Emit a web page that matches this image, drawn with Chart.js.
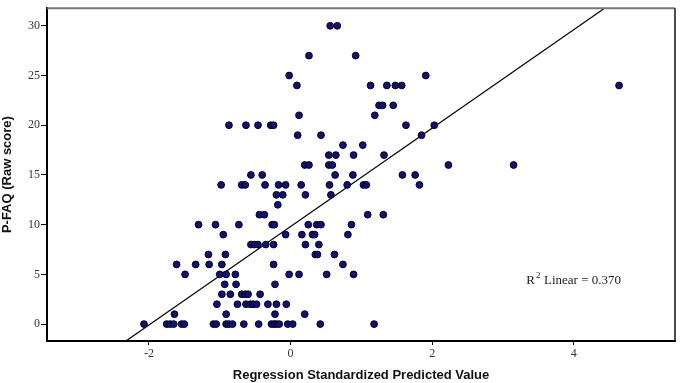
<!DOCTYPE html>
<html>
<head>
<meta charset="utf-8">
<script src="https://cdn.jsdelivr.net/npm/chart.js@4"></script>
<style>
  html, body { margin: 0; padding: 0; background: #fff; }
  #wrap { width: 680px; height: 383px; position: relative; }
</style>
</head>
<body>
<div id="wrap"><canvas id="myChart"></canvas></div>
<script>
const ctx = document.getElementById("myChart");

// y values (P-FAQ raw score) per row, x = standardized predicted value
const rowY = [30, 27, 25, 24, 22, 21, 20, 19, 18, 17, 16, 15, 14, 13, 12, 11, 10, 9, 8, 7, 6, 5, 4, 3, 2, 1, 0];
const rowX = [
  [0.56, 0.66],
  [0.26, 0.92],
  [-0.02, 1.91],
  [0.09, 1.13, 1.36, 1.48, 1.57, 4.64],
  [1.25, 1.3, 1.45],
  [0.12, 1.19],
  [-0.87, -0.63, -0.46, -0.28, -0.24, 1.63, 2.03],
  [0.1, 0.43, 1.85],
  [0.74, 1.02],
  [0.54, 0.64, 0.89, 1.32],
  [0.2, 0.26, 0.54, 0.59, 2.23, 3.15],
  [-0.56, -0.4, 0.63, 0.88, 1.58, 1.76],
  [-0.98, -0.69, -0.64, -0.36, -0.17, -0.07, 0.15, 0.55, 0.8, 1.03, 1.07, 1.82],
  [-0.2, -0.11, 0.21, 0.57],
  [-0.18],
  [-0.44, -0.37, 1.09, 1.31],
  [-1.3, -1.06, -0.73, -0.26, -0.23, 0.25, 0.37, 0.43, 0.86],
  [-0.95, -0.07, 0.16, 0.31, 0.34, 0.81],
  [-0.56, -0.51, -0.46, -0.35, -0.24, 0.21, 0.4],
  [-1.16, -0.92, 0.35, 0.38, 0.62],
  [-1.61, -1.34, -1.15, -0.97, -0.24, 0.74],
  [-1.49, -1.0, -0.91, -0.78, -0.02, 0.12, 0.51, 0.89],
  [-0.93, -0.77, -0.22],
  [-0.97, -0.85, -0.69, -0.64, -0.6, -0.43],
  [-1.04, -0.75, -0.63, -0.57, -0.53, -0.48, -0.32, -0.2, -0.06],
  [-1.64, -0.91, -0.22, 0.2],
  [-2.07, -1.75, -1.7, -1.65, -1.54, -1.5, -1.09, -1.05, -0.91, -0.87, -0.82, -0.66, -0.45, -0.27, -0.23, -0.2, -0.16, -0.04, 0.03, 0.42, 1.18],
];

// fit line
const fitIntercept = 9.81;
const fitSlope = 4.95;
const fitX = [-2.6, 4.7];
const rSquared = "0.370";

const xTicks = [-2, 0, 2, 4];
const yTicks = [0, 5, 10, 15, 20, 25, 30];

var points = [];
rowY.forEach((y, i) => {
  rowX[i].forEach((x) => points.push({ x: x, y: y }));
});
var fitLine = fitX.map((x) => ({ x: x, y: fitIntercept + fitSlope * x }));

const tickFont = { family: "'Liberation Serif', serif", size: 12 };
const titleFont = { family: "'Liberation Sans', Arial, sans-serif", size: 13, weight: "bold" };

//_ plot frame (top + right edges) and R² label
const framePlugin = {
  id: "frame",
  afterDraw(chart) {
    const a = chart.chartArea;
    const c = chart.ctx;
    c.save();
    c.strokeStyle = "#777";
    c.lineWidth = 2;
    c.beginPath();
    c.moveTo(a.left, a.top);
    c.lineTo(a.right, a.top);
    c.stroke();
    c.strokeStyle = "#111";
    c.lineWidth = 1.5;
    c.beginPath();
    c.moveTo(a.right, a.top);
    c.lineTo(a.right, a.bottom);
    c.stroke();

    const xs = chart.scales.x;
    const ys = chart.scales.y;
    const px = xs.getPixelForValue(3.33);
    const py = ys.getPixelForValue(4.4);
    c.fillStyle = "#222";
    c.textBaseline = "middle";
    c.font = "13px 'Liberation Serif', serif";
    c.fillText("R", px, py);
    const w = c.measureText("R").width;
    c.font = "9px 'Liberation Serif', serif";
    c.fillText("2", px + w + 1, py - 5);
    c.font = "13px 'Liberation Serif', serif";
    c.fillText("Linear = " + rSquared, px + w + 9, py);
    c.restore();
  },
};

const myChart = new Chart(ctx, {
  type: "scatter",
  data: {
    datasets: [
      {
        label: "P-FAQ",
        data: points,
        backgroundColor: "#121272",
        borderColor: "#000028",
        borderWidth: 1,
        pointRadius: 3.4,
        order: 1,
      },
      {
        label: "Fit",
        type: "line",
        data: fitLine,
        borderColor: "#000",
        borderWidth: 1.2,
        pointRadius: 0,
        fill: false,
        order: 2,
      },
    ],
  },
  options: {
    responsive: true,
    maintainAspectRatio: false,
    animation: false,
    layout: { padding: { top: 6, right: 2, left: 0, bottom: 0 } },
    plugins: {
      legend: { display: false },
      tooltip: { enabled: false },
    },
    scales: {
      x: {
        type: "linear",
        min: -3.44,
        max: 5.43,
        afterBuildTicks: (s) => { s.ticks = xTicks.map((v) => ({ value: v })); },
        afterFit: (s) => { s.height = 42; },
        grid: { drawOnChartArea: false, drawTicks: true, tickLength: 4, color: "#000" },
        border: { display: true, color: "#000", width: 2 },
        ticks: { font: tickFont, color: "#333", padding: 2, maxRotation: 0 },
        title: { display: true, text: "Regression Standardized Predicted Value", font: titleFont, color: "#111", padding: { top: 1, bottom: 0 } },
      },
      y: {
        type: "linear",
        min: -1.7,
        max: 31.77,
        afterBuildTicks: (s) => { s.ticks = yTicks.map((v) => ({ value: v })); },
        afterFit: (s) => { s.width = 47; },
        grid: { drawOnChartArea: false, drawTicks: true, tickLength: 6, color: "#000" },
        border: { display: true, color: "#000", width: 2 },
        ticks: { font: tickFont, color: "#333", padding: 1 },
        title: { display: true, text: "P-FAQ (Raw score)", font: titleFont, color: "#111", padding: { top: 0, bottom: 0 } },
      },
    },
  },
  plugins: [framePlugin],
});
</script>
</body>
</html>
